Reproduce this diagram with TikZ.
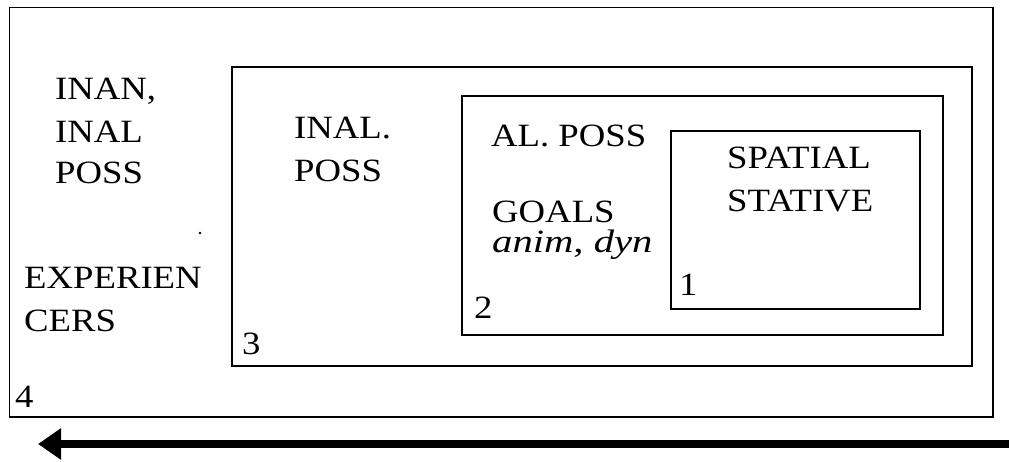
\documentclass[tikz,border=0pt]{standalone}
\usepackage{fontspec}
\setmainfont{Liberation Serif}[FakeStretch=1.13]
\newfontfamily\wideital{Liberation Serif}[FakeStretch=1.25]
\usetikzlibrary{arrows.meta}

\begin{document}
\begin{tikzpicture}[x=1pt, y=-1pt,
  frame/.style={draw=black, line width=1.4pt, anchor=north west,
    inner sep=0pt, outer sep=0pt},
  label/.style={anchor=base west, inner sep=0pt,
    font=\fontsize{32.5}{42}\selectfont},
  bigarrow/.style={line width=7.5pt, -{Triangle[length=23pt,width=30pt]}}]
\useasboundingbox (0,0) rectangle (1009,462);
\fill[white] (0,0) rectangle (1009,462);

% nested zones, outermost first
\node[frame, minimum width=983.5pt, minimum height=409.5pt] (zone4) at (9.5,7.5) {};
\node[frame, minimum width=740pt, minimum height=299pt] (zone3) at (232,67) {};
\node[frame, minimum width=481pt, minimum height=239pt] (zone2) at (462,96) {};
\node[frame, minimum width=249pt, minimum height=178pt] (zone1) at (671,131) {};

% zone 4 contents
\node[label] (inan1) at (55,100) {INAN,};
\node[label] (inan2) at (55,143) {INAL};
\node[label] (inan3) at (55,184) {POSS};
\node[label] (exp1) at (24,289) {EXPERIEN};
\node[label] (exp2) at (24,331) {CERS};
\fill (200,233) circle (1.3pt);

% zone 3 contents
\node[label] (inal1) at (294,139) {INAL.};
\node[label] (inal2) at (294,182) {POSS};

% zone 2 contents
\node[label] (alposs) at (491,147) {AL. POSS};
\node[label] (goals) at (492,223) {GOALS};
\node[label] (anim) at (492,253) {\wideital\itshape anim, dyn};

% zone 1 contents
\node[label] (spat1) at (727,169) {SPATIAL};
\node[label] (spat2) at (727,212) {STATIVE};

% zone numbers
\node[label] (n1) at (679,296) {1};
\node[label] (n2) at (474,318) {2};
\node[label] (n3) at (242,354) {3};
\node[label] (n4) at (15,407) {4};

% direction arrow
\coordinate (arrowtail) at (1009,444);
\coordinate (arrowtip) at (38,444);
\draw[bigarrow] (arrowtail) -- (arrowtip);
\end{tikzpicture}
\end{document}
